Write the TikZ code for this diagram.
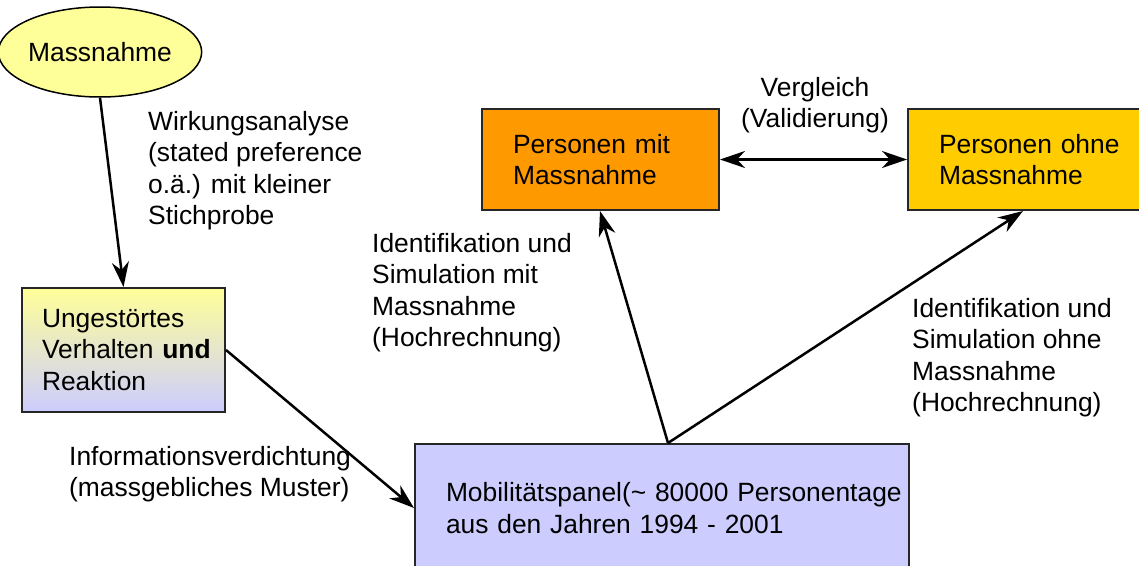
\documentclass[tikz,border=0pt]{standalone}
\usepackage{fontspec}
\setmainfont{Liberation Sans}
\usetikzlibrary{arrows.meta,shapes.geometric}
\definecolor{paleyellow}{HTML}{FFFF99}
\definecolor{lavender}{HTML}{CCCCFF}
\definecolor{orangebox}{HTML}{FF9900}
\definecolor{goldbox}{HTML}{FFCC00}
\tikzset{
  txt/.style={font=\fontsize{26.4}{31.5}\selectfont},
  box/.style={txt, draw=black!85, line width=2pt, rectangle, anchor=north west, align=left},
  lbl/.style={txt, inner sep=0pt, align=left, anchor=north west},
  arr/.style={-{Stealth[length=25pt,width=17pt,inset=8pt]}, line width=2.5pt},
  dblarr/.style={{Stealth[length=25pt,width=17pt,inset=8pt]}-{Stealth[length=25pt,width=17pt,inset=8pt]}, line width=2.5pt}
}
\begin{document}
\begin{tikzpicture}[x=1pt,y=-1pt]
\fill[white] (0,0) rectangle (1139,565);
\clip (0,0) rectangle (1139,565);

% measure and the two starting points
\node[ellipse, draw=black, line width=1.5pt, fill=paleyellow, txt,
      minimum width=180pt, minimum height=90pt, inner sep=0pt] (m) at (100,52) {Massnahme};
\node[box, top color=paleyellow, bottom color=lavender, minimum width=203pt, minimum height=124pt,
      inner xsep=20pt, text width=163pt] (u) at (21,287)
      {\mbox{Ungestörtes}\\\mbox{Verhalten \textbf{und}}\\\mbox{Reaktion}};
\node[box, fill=lavender, minimum width=494pt, minimum height=128pt,
      inner xsep=31pt, text width=432pt] (p) at (414,443)
      {\mbox{Mobilitätspanel(\string~ 80000 Personentage}\\\mbox{aus den Jahren 1994 - 2001}};

% results with and without the measure
\node[box, fill=orangebox, minimum width=237pt, minimum height=101pt,
      inner xsep=31pt, text width=175pt] (pm) at (481,108)
      {\mbox{Personen mit}\\\mbox{Massnahme}};
\node[box, fill=goldbox, minimum width=240pt, minimum height=101pt,
      inner xsep=31pt, text width=178pt] (po) at (907,108)
      {\mbox{Personen ohne}\\\mbox{Massnahme}};

% connectors
\draw[arr] (m.south) -- (u.north);
\draw[arr] (u.east) -- (p.west);
\draw[arr] ([xshift=6pt]p.north) -- ([xshift=-0.5pt]pm.south);
\draw[arr] ([xshift=6pt]p.north) -- ([xshift=116pt]po.south west);
\draw[dblarr] (pm.east) -- (po.west);

% connector labels
\node[lbl] (l1) at (148,111) {Wirkungsanalyse\\(stated preference\\o.ä.) mit kleiner\\Stichprobe};
\node[lbl] (l2) at (372,233) {Identifikation und\\Simulation mit\\Massnahme\\(Hochrechnung)};
\node[lbl] (l3) at (912,298) {Identifikation und\\Simulation ohne\\Massnahme\\(Hochrechnung)};
\node[lbl] (l4) at (69,446) {Informationsverdichtung\\(massgebliches Muster)};
\node[lbl, align=center, anchor=north] (l5) at (815,77) {Vergleich\\(Validierung)};
\end{tikzpicture}
\end{document}
